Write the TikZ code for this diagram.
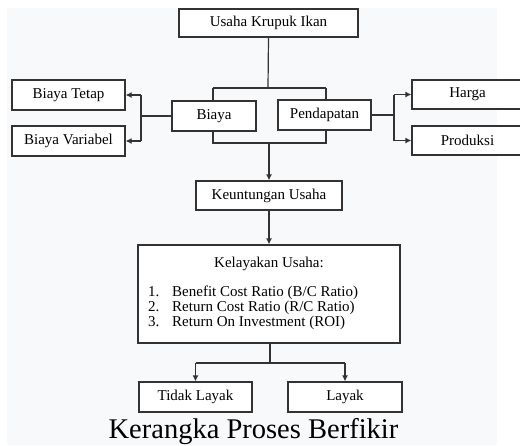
\documentclass[tikz,border=0pt]{standalone}
\usepackage{fontspec}
\setmainfont{Liberation Serif}
\usetikzlibrary{arrows.meta}
\definecolor{bggray}{HTML}{F8F9FA}
\definecolor{linegray}{HTML}{333333}
\begin{document}
\begin{tikzpicture}[x=1pt,y=-1pt,
  box/.style={draw=linegray,line width=1.2pt,fill=white,inner sep=0pt,font=\fontsize{15}{15}\selectfont},
  conn/.style={draw=linegray,line width=1.2pt},
  arr/.style={conn,-{Latex[length=6pt,width=6pt]}},
  txt/.style={inner sep=0pt,font=\fontsize{15}{15}\selectfont}]
\useasboundingbox (0,0) rectangle (520,445);
\fill[bggray] (7,8) rectangle (497,445);
% boxes
\node[box,minimum width=179pt,minimum height=28pt] (top) at (268.5,23) {Usaha Krupuk Ikan};
\node[box,minimum width=84pt,minimum height=30pt] (biaya) at (214,116) {Biaya};
\node[box,minimum width=93pt,minimum height=30pt] (pend) at (324.5,115) {Pendapatan};
\node[box,minimum width=113pt,minimum height=30pt] (tetap) at (68.5,95) {Biaya Tetap};
\node[box,minimum width=113pt,minimum height=30pt] (var) at (68.5,141) {Biaya Variabel};
\node[box,minimum width=111pt,minimum height=29pt] (harga) at (467.5,94.5) {Harga};
\node[box,minimum width=111pt,minimum height=29pt] (prod) at (467.5,140.5) {Produksi};
\node[box,minimum width=146pt,minimum height=29pt] (keu) at (269,195.5) {Keuntungan Usaha};
\node[box,minimum width=262pt,minimum height=98pt] (kel) at (269,294) {};
\node[box,minimum width=113pt,minimum height=30pt] (tidak) at (195.5,397) {Tidak Layak};
\node[box,minimum width=114pt,minimum height=30pt] (layak) at (345,397) {Layak};
% text inside Kelayakan box
\node[txt,anchor=base] (keltitle) at (269,267) {Kelayakan Usaha:};
\node[txt,anchor=base west] (n1) at (148,296) {1.};
\node[txt,anchor=base west] (t1) at (172,296) {Benefit Cost Ratio (B/C Ratio)};
\node[txt,anchor=base west] (n2) at (148,311) {2.};
\node[txt,anchor=base west] (t2) at (172,311) {Return Cost Ratio (R/C Ratio)};
\node[txt,anchor=base west] (n3) at (148,326) {3.};
\node[txt,anchor=base west] (t3) at (172,326) {Return On Investment (ROI)};
% caption
\node[inner sep=0pt,anchor=base,font=\fontsize{28.5}{28.5}\selectfont] (cap) at (253.5,438) {Kerangka Proses Berfikir};
% coordinates
\coordinate (tj) at (268,88);
\coordinate (tl) at (213,88);
\coordinate (tr) at (326,88);
\coordinate (bj) at (269,143);
\coordinate (bl) at (213,143);
\coordinate (br) at (326,143);
\coordinate (lj) at (141,116);
\coordinate (rj) at (394,115);
\coordinate (dj) at (270,363);
% connectors
\draw[conn] (top.south) -- (tj);
\draw[conn] (tl) -- (tr);
\draw[conn] (tl) -- (tl |- biaya.north);
\draw[conn] (tr) -- (tr |- pend.north);
\draw[conn] (bl |- biaya.south) -- (bl) -- (br) -- (br |- pend.south);
\draw[arr] (bj) -- (keu.north);
\draw[conn] (biaya.west) -- (lj);
\draw[conn] (lj |- tetap.east) -- (lj |- var.east);
\draw[arr] (lj |- tetap.east) -- (tetap.east);
\draw[arr] (lj |- var.east) -- (var.east);
\draw[conn] (pend.east) -- (rj);
\draw[conn] (rj |- harga.west) -- (rj |- prod.west);
\draw[arr] (rj |- harga.west) -- (harga.west);
\draw[arr] (rj |- prod.west) -- (prod.west);
\draw[arr] (keu.south) -- (keu.south |- kel.north);
\draw[conn] (dj |- kel.south) -- (dj);
\draw[conn] (dj -| tidak.north) -- (dj -| layak.north);
\draw[arr] (dj -| tidak.north) -- (tidak.north);
\draw[arr] (dj -| layak.north) -- (layak.north);
\end{tikzpicture}
\end{document}
